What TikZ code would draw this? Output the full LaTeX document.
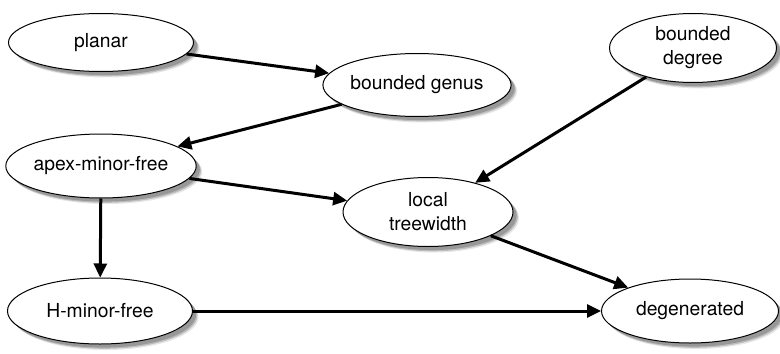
\documentclass[tikz,border=0pt]{standalone}
\usepackage{fontspec}
\setmainfont{TeX Gyre Heros}
\usetikzlibrary{shapes.geometric,arrows.meta,shadows}
\begin{document}
\begin{tikzpicture}[x=0.5pt,y=-0.5pt,
  elli/.style={ellipse,draw=black,line width=0.5pt,fill=white,inner sep=0pt,
    align=center,font=\fontsize{9.65}{12}\selectfont,
    drop shadow={shadow xshift=3pt,shadow yshift=-3pt,opacity=0.2},
    drop shadow={shadow xshift=2.4pt,shadow yshift=-2.4pt,opacity=0.4},
    drop shadow={shadow xshift=1.8pt,shadow yshift=-1.8pt,opacity=0.6}},
  conn/.style={-{Triangle[length=7pt,width=6.5pt]},line width=1.5pt}]
\useasboundingbox (0,0) rectangle (780,353);
\node[elli,minimum width=92.5pt,minimum height=29pt] (planar) at (101,42.5) {planar};
\node[elli,minimum width=92pt,minimum height=31.5pt] (genus) at (417,85) {bounded genus};
\node[elli,minimum width=83.5pt,minimum height=34.5pt] (degree) at (693,48) {bounded\\degree};
\node[elli,minimum width=93pt,minimum height=32pt] (apex) at (101,166) {apex-minor-free};
\node[elli,minimum width=85pt,minimum height=34.5pt] (local) at (428,212) {local\\treewidth};
\node[elli,minimum width=92.5pt,minimum height=33pt] (hminor) at (100,311) {H-minor-free};
\node[elli,minimum width=88.5pt,minimum height=32pt] (degen) at (690,311) {degenerated};
\draw[conn] (planar) -- (genus);
\draw[conn] (genus) -- (apex);
\draw[conn] (degree) -- (local);
\draw[conn] (apex) -- (local);
\draw[conn] (apex) -- (hminor);
\draw[conn] (hminor) -- (degen);
\draw[conn] (local) -- (degen);
\end{tikzpicture}
\end{document}
